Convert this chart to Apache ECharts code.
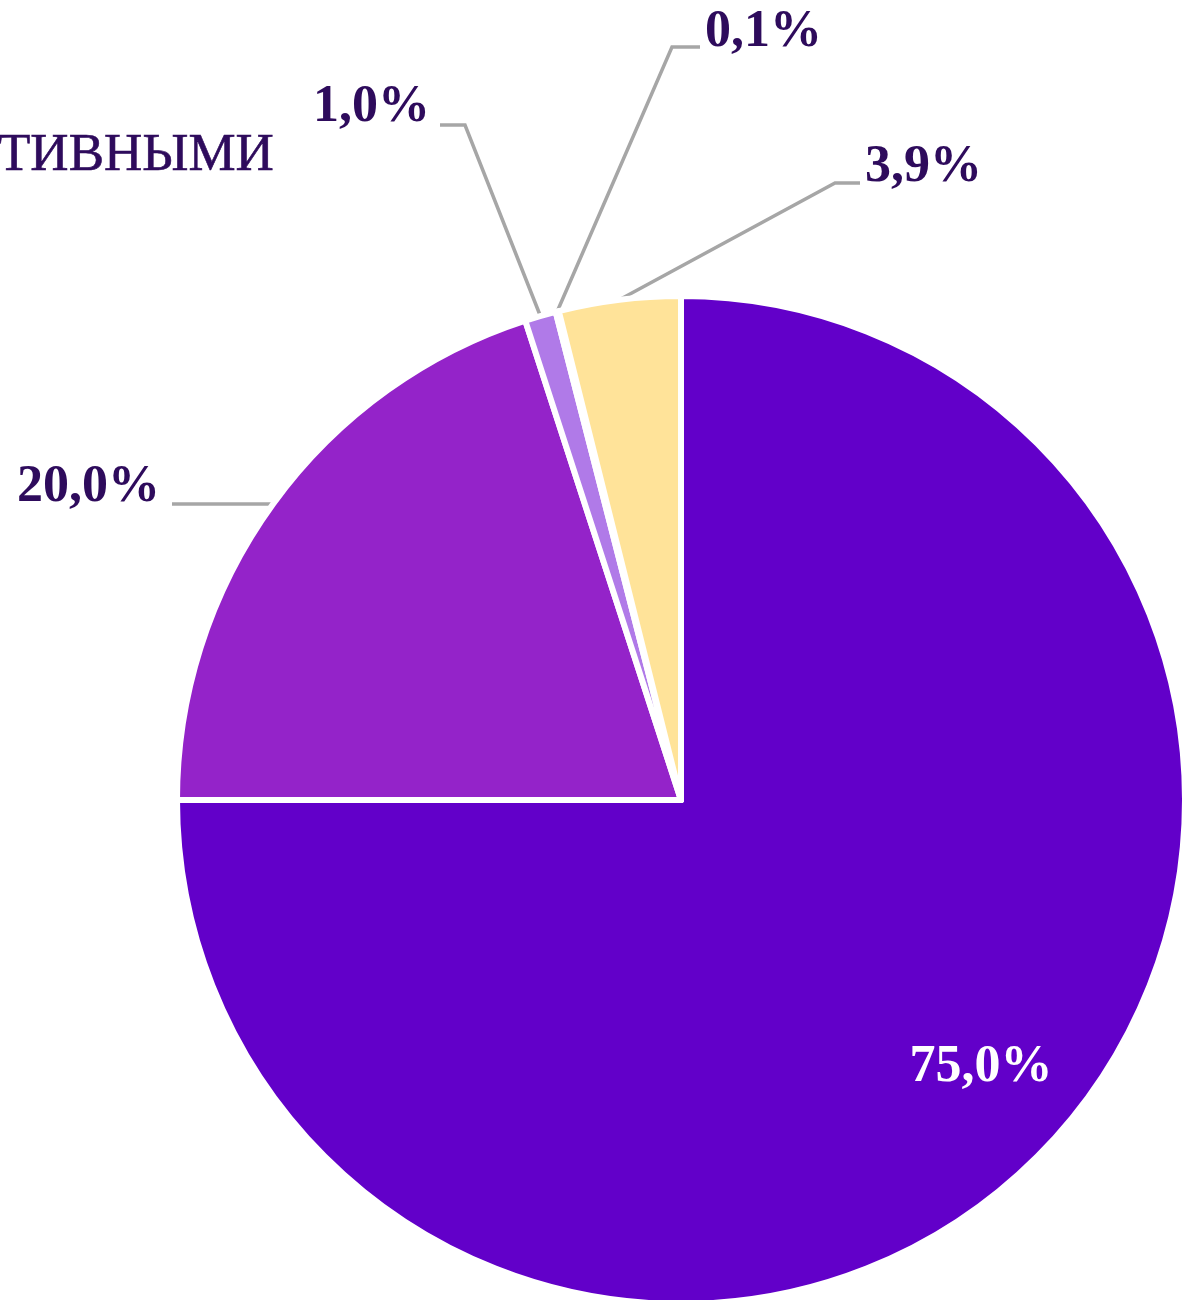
<!DOCTYPE html>
<html>
<head>
<meta charset="utf-8">
<script src="https://cdn.jsdelivr.net/npm/echarts@6/dist/echarts.min.js"></script>
<style>
    html, body { margin: 0; padding: 0; background: #fff; }
    #main { width: 1185px; height: 1300px; }
</style>
</head>
<body>
<div id="main"></div>
<script>
var shares = [75.0, 20.0, 1.0, 0.1, 3.9];
var colors = ['#6200C9', '#9423C9', '#B07AE8', '#FFFFFF', '#FFE399'];
var titleText = 'ТИВНЫМИ';

// where each label sits, and the elbow + end of its leader line
var labelPos = [
    { x: 981, y: 1068, align: 'center' },
    { x: 160, y: 488, align: 'right', line: [[272, 504], [172, 504]] },
    { x: 430, y: 108, align: 'right', line: [[465, 125], [440, 125]] },
    { x: 705, y: 33, align: 'left', line: [[672, 47], [700, 47]] },
    { x: 865, y: 168, align: 'left', line: [[835, 183], [860, 183]] }
];

var myChart = echarts.init(document.getElementById('main'));

var pieData = [];
for (var i = 0, iL = shares.length; i < iL; i++) {
    var item = {
        value: shares[i],
        itemStyle: { color: colors[i] }
    };
    if (i == 0) {
        item.label = { position: 'inside', color: '#FFFFFF' };
        item.labelLine = { show: false };
    }
    pieData.push(item);
}

var option = {
    backgroundColor: '#FFFFFF',
    animation: false,
    title: {
        text: titleText,
        left: -2,
        top: 130,
        padding: 0,
        textStyle: {
            fontFamily: 'Liberation Serif',
            fontWeight: 'normal',
            fontSize: 53,
            color: '#2E0B5C',
            textBorderColor: '#2E0B5C',
            textBorderWidth: 0.6
        }
    },
    series: [{
        type: 'pie',
        center: [681, 800],
        radius: 504,
        startAngle: 90,
        clockwise: true,
        avoidLabelOverlap: false,
        itemStyle: {
            borderColor: '#FFFFFF',
            borderWidth: 6
        },
        label: {
            show: true,
            position: 'outside',
            fontFamily: 'Liberation Serif',
            fontWeight: 'bold',
            fontSize: 52,
            color: '#2E0B5C',
            formatter: function (p) {
                return p.value.toFixed(1).replace('.', ',') + '%';
            }
        },
        labelLine: {
            show: true,
            length: 20,
            length2: 20,
            lineStyle: { color: '#A6A6A6', width: 3.5 }
        },
        labelLayout: function (params) {
            var p = labelPos[params.dataIndex];
            var out = { x: p.x, y: p.y, align: p.align, verticalAlign: 'middle' };
            if (p.line && params.labelLinePoints) {
                out.labelLinePoints = [params.labelLinePoints[0], p.line[0], p.line[1]];
            }
            return out;
        },
        data: pieData
    }]
};

myChart.setOption(option);
</script>
</body>
</html>
